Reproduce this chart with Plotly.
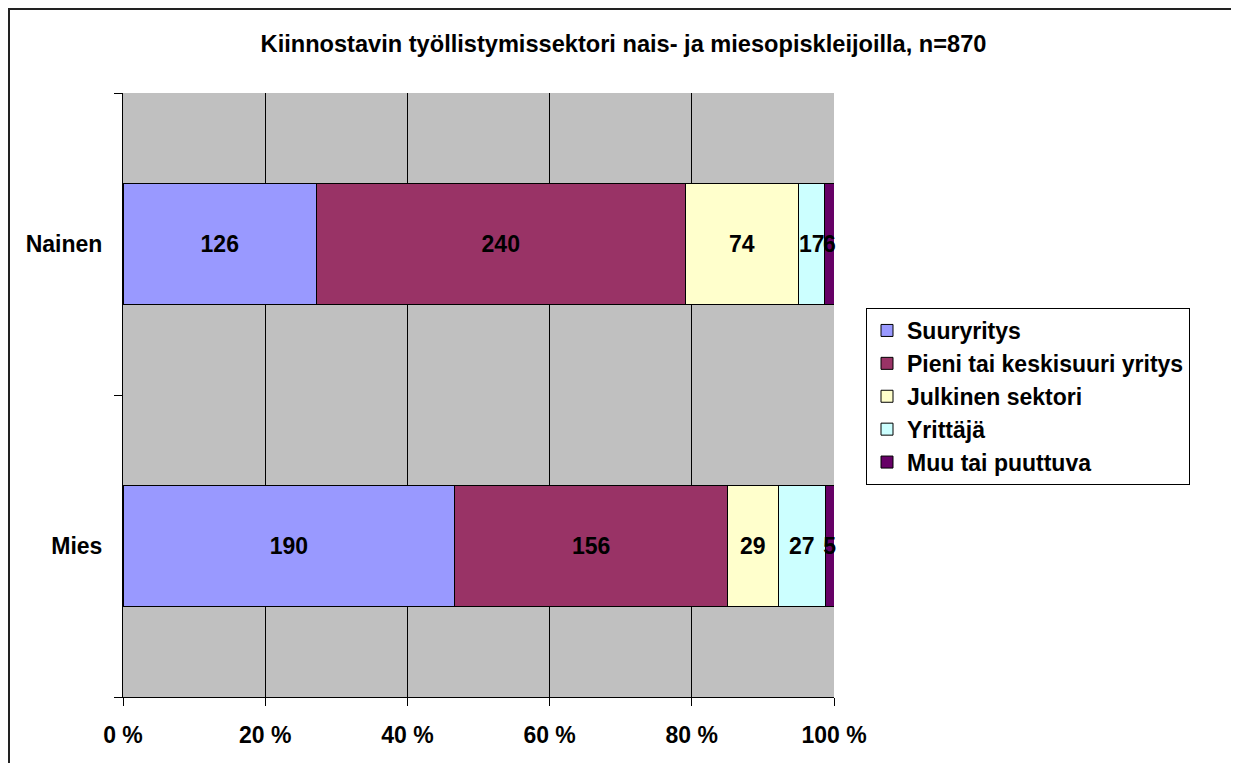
import plotly.graph_objects as go

groups = ['Mies', 'Nainen']
sectors = ['Suuryritys', 'Pieni tai keskisuuri yritys', 'Julkinen sektori',
           'Yrittäjä', 'Muu tai puuttuva']
# counts per sector, order matches groups
counts = {
    'Suuryritys': [190, 126],
    'Pieni tai keskisuuri yritys': [156, 240],
    'Julkinen sektori': [29, 74],
    'Yrittäjä': [27, 17],
    'Muu tai puuttuva': [5, 6],
}
colors = ['#9999FF', '#993366', '#FFFFCC', '#CCFFFF', '#660066']
x_ticks = [0, 20, 40, 60, 80, 100]

font = 'Liberation Sans, Arial, sans-serif'
fs = 23

# figure sits 8px into the page (body margin)
W, H = 1231, 755
L, T, PW, PH = 115, 85, 711, 604

fig = go.Figure()
for name, color in zip(sectors, colors):
    fig.add_trace(go.Bar(
        y=groups,
        x=counts[name],
        name=f'<b>{name}</b>',
        orientation='h',
        width=0.4,
        marker=dict(color=color, line=dict(color='black', width=1)),
        text=counts[name],
        texttemplate='<b>%{text}</b>',
        textposition='inside',
        insidetextanchor='middle',
        textangle=0,
        textfont=dict(family=font, size=fs, color='black'),
        cliponaxis=False,
        hoverinfo='skip',
    ))

fig.update_layout(
    barmode='stack',
    barnorm='percent',
    width=W,
    height=H,
    margin=dict(l=L, r=W - L - PW, t=T, b=H - T - PH),
    paper_bgcolor='white',
    plot_bgcolor='#C0C0C0',
    font=dict(family=font, size=fs, color='black'),
    uniformtext=dict(minsize=fs, mode='show'),
    title=dict(
        text='<b>Kiinnostavin työllistymissektori nais- ja miesopiskleijoilla, n=870</b>',
        x=0.5, xref='container', y=1 - 36 / H, yanchor='middle',
        font=dict(family=font, size=23.6, color='black'),
    ),
    showlegend=True,
    legend=dict(
        x=(858 - L) / PW, y=(T + PH - 300) / PH,
        xanchor='left', yanchor='top',
        traceorder='normal',
        bgcolor='white',
        bordercolor='black', borderwidth=1,
        font=dict(family=font, size=fs, color='black'),
    ),
    xaxis=dict(
        range=[0, 100],
        tickvals=x_ticks,
        ticktext=[f'<b>{v} %</b>' for v in x_ticks],
        showgrid=True, gridcolor='black', gridwidth=1,
        showline=True, linecolor='black', linewidth=1,
        ticks='outside', ticklen=8, tickcolor='black',
        zeroline=False,
        ticklabelstandoff=9,
    ),
    yaxis=dict(
        type='category',
        categoryorder='array', categoryarray=groups,
        range=[-0.5, 1.5],
        tickvals=groups,
        ticktext=[f'<b>{g}</b>' for g in groups],
        tickson='boundaries',
        ticks='outside', ticklen=8, tickcolor='black',
        showline=True, linecolor='black', linewidth=1,
        showgrid=False,
        ticklabelstandoff=15,
    ),
)

# outer chart frame
fig.add_shape(
    type='rect', xref='paper', yref='paper',
    x0=(1 - L) / PW, x1=(1229 - L) / PW,
    y0=-0.3, y1=(T + PH - 1) / PH,
    line=dict(color='#222222', width=2),
    layer='below',
)

fig.write_html('out.html')
